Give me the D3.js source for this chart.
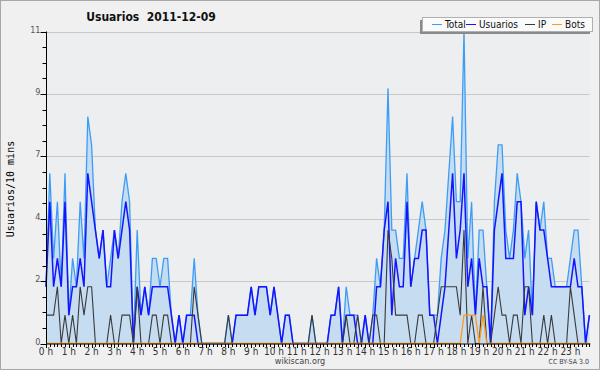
<!DOCTYPE html>
<html>
<head>
<meta charset="utf-8">
<script src="https://cdn.jsdelivr.net/npm/d3@7"></script>
<style>
  body { margin: 0; background: #f0f0f0; }
  text { font-family: "DejaVu Sans Condensed", "DejaVu Sans", sans-serif; }
</style>
</head>
<body>
<script>
// values per 10 minutes, 144 slots from 0 h to 23 h 50
var total = [
  2,6,3,5,2,6,1,3,2,5, 3,8,7,4,3,4,2,3,4,3, 5,6,5,0,4,1,2,1,3,3,
  2,3,3,1,0,1,0,1,1,3, 1,0,0,0,0,0,0,0,1,0, 1,1,1,1,2,1,2,2,2,1,
  2,1,0,1,1,0,0,0,0,0, 1,0,0,0,0,1,1,2,0,2, 1,1,1,0,1,0,1,3,2,4,
  9,4,4,3,3,6,2,3,4,5, 4,1,1,1,3,4,6,8,5,5, 11,3,5,1,4,4,2,0,5,7,
  7,4,3,4,6,5,3,4,1,5, 4,5,3,3,2,2,2,2,3,4, 4,2,0,1
];
var usuarios = [
  2,5,2,3,2,5,1,2,2,3, 2,6,5,4,3,4,2,2,4,3, 4,5,4,0,2,1,2,1,2,2,
  2,2,2,1,0,1,0,1,1,1, 0,0,0,0,0,0,0,0,0,0, 1,1,1,1,2,1,2,2,2,1,
  2,1,0,1,1,0,0,0,0,0, 0,0,0,0,0,1,1,2,0,1, 1,1,0,0,1,0,0,2,2,4,
  5,1,3,2,2,5,2,3,3,4, 4,1,1,0,1,2,4,6,3,4, 6,2,3,1,3,2,2,0,4,5,
  6,3,3,3,5,5,1,2,1,5, 4,4,3,2,2,2,2,2,2,3, 2,2,0,1
];
var ip = [
  1,1,1,2,0,1,0,1,0,2, 1,2,2,0,0,0,0,1,0,0, 1,1,1,0,2,0,0,0,1,1,
  0,1,1,0,0,0,0,0,0,2, 1,0,0,0,0,0,0,0,1,0, 0,0,0,0,0,0,0,0,0,0,
  0,0,0,0,0,0,0,0,0,0, 1,0,0,0,0,0,0,0,0,1, 0,0,1,0,0,0,1,1,0,0,
  4,3,1,1,1,1,0,0,1,1, 0,0,0,1,2,2,2,2,2,1, 4,0,1,0,0,2,0,0,1,2,
  1,1,0,1,1,0,2,2,0,0, 0,1,0,1,0,0,0,0,2,1, 0,0,0,0
];
var bots = [
  0,0,0,0,0,0,0,0,0,0, 0,0,0,0,0,0,0,0,0,0, 0,0,0,0,0,0,0,0,0,0,
  0,0,0,0,0,0,0,0,0,0, 0,0,0,0,0,0,0,0,0,0, 0,0,0,0,0,0,0,0,0,0,
  0,0,0,0,0,0,0,0,0,0, 0,0,0,0,0,0,0,0,0,0, 0,0,0,0,0,0,0,0,0,0,
  0,0,0,0,0,0,0,0,0,0, 0,0,0,0,0,0,0,0,0,0, 1,1,1,1,0,1,0,0,0,0,
  0,0,0,0,0,0,0,0,0,0, 0,0,0,0,0,0,0,0,0,0, 0,0,0,0
];
var hourLabels = ["0 h","1 h","2 h","3 h","4 h","5 h","6 h","7 h","8 h","9 h","10 h","11 h",
  "12 h","13 h","14 h","15 h","16 h","17 h","18 h","19 h","20 h","21 h","22 h","23 h"];
var yTicks = [0, 2.2, 4.4, 6.6, 8.8, 11];
var yTickLabels = ["0", "2", "4", "7", "9", "11"];
var seriesNames = ["Total", "Usuarios", "IP", "Bots"];
var seriesColors = ["#3d9df5", "#1414ff", "#3a3a3a", "#ff9a1a"];

var W = 600, H = 370;
var svg = d3.select("body").append("svg")
    .attr("width", W)
    .attr("height", H);

svg.append("rect")
    .attr("x", 0.5).attr("y", 0.5)
    .attr("width", W - 1).attr("height", H - 1)
    .attr("fill", "#f0f0f0")
    .attr("stroke", "#a8a8a8");

var x = d3.scaleLinear().domain([0, 143]).range([46, 589.4]);
var y = d3.scaleLinear().domain([0, 11]).range([343.5, 31.5]);

svg.append("rect")
    .attr("x", x(0)).attr("y", y(11))
    .attr("width", x(143) - x(0)).attr("height", y(0) - y(11))
    .attr("fill", "#edeef0");

// grid
svg.append("g").selectAll("line")
    .data(yTicks.slice(1))
    .enter().append("line")
    .attr("x1", x(0)).attr("x2", x(143))
    .attr("y1", function(d) { return Math.round(y(d)) + 0.5; })
    .attr("y2", function(d) { return Math.round(y(d)) + 0.5; })
    .attr("stroke", "#c8c8c8");

var idx = d3.range(total.length);

var area = d3.area()
    .x(function(i) { return x(i); })
    .y0(y(0))
    .y1(function(i) { return y(total[i]); });

svg.append("path")
    .attr("d", area(idx))
    .attr("fill", "#c6dcf1");

var series = [total, usuarios, ip, bots];
var widths = [1.3, 1.5, 1.1, 1.3];
series.forEach(function(s, k) {
    var line = d3.line()
        .x(function(i) { return x(i); })
        .y(function(i) { return y(s[i]); });
    svg.append("path")
        .attr("d", line(idx))
        .attr("fill", "none")
        .attr("stroke", seriesColors[k])
        .attr("stroke-width", widths[k])
        .attr("stroke-linejoin", "miter");
});

// x axis: minor ticks every 10 min, labels each hour
var xAxis = svg.append("g")
    .attr("transform", "translate(0," + (y(0) + 0.5) + ")");
xAxis.append("line")
    .attr("x1", x(0)).attr("x2", x(143) + 1)
    .attr("stroke", "#000");
xAxis.selectAll("line.minor")
    .data(idx)
    .enter().append("line")
    .attr("class", "minor")
    .attr("x1", function(i) { return Math.round(x(i)) + 0.5; })
    .attr("x2", function(i) { return Math.round(x(i)) + 0.5; })
    .attr("y1", 0)
    .attr("y2", function(i) { return i % 6 == 0 ? 4 : 3; })
    .attr("stroke", "#000");
xAxis.selectAll("text")
    .data(hourLabels)
    .enter().append("text")
    .attr("x", function(d, h) { return x(h * 6); })
    .attr("y", 11)
    .attr("text-anchor", "middle")
    .attr("font-size", 10)
    .attr("fill", "#333")
    .text(function(d) { return d; });

// y axis
var yAxis = svg.append("g")
    .attr("transform", "translate(" + (x(0) + 0.5) + ",0)");
yAxis.append("line")
    .attr("y1", y(11)).attr("y2", y(0))
    .attr("stroke", "#000");
yAxis.selectAll("line.minor")
    .data(d3.range(0, 21))
    .enter().append("line")
    .attr("class", "minor")
    .attr("x1", function(j) { return j % 4 == 0 ? -6 : -4; })
    .attr("x2", 0)
    .attr("y1", function(j) { return Math.round(y(j * 0.55)) + 0.5; })
    .attr("y2", function(j) { return Math.round(y(j * 0.55)) + 0.5; })
    .attr("stroke", "#000");
yAxis.selectAll("text")
    .data(yTicks)
    .enter().append("text")
    .attr("x", -6)
    .attr("y", function(d) { return y(d) + 1; })
    .attr("text-anchor", "end")
    .attr("font-size", 9)
    .attr("fill", "#555")
    .text(function(d, k) { return yTickLabels[k]; });

svg.append("text")
    .attr("transform", "translate(14,189) rotate(-90)")
    .attr("text-anchor", "middle")
    .style("font-family", "'DejaVu Sans Mono', monospace")
    .attr("font-size", 10)
    .attr("fill", "#000")
    .text("Usuarios/10 mins");

svg.append("text")
    .attr("x", 151).attr("y", 21)
    .attr("text-anchor", "middle")
    .attr("font-size", 12)
    .attr("font-weight", "bold")
    .attr("fill", "#111")
    .text("Usuarios\u00a0\u00a02011-12-09");

svg.append("text")
    .attr("x", 300).attr("y", 364)
    .attr("text-anchor", "middle")
    .attr("font-size", 9)
    .attr("fill", "#444")
    .text("wikiscan.org");

svg.append("text")
    .attr("x", 589).attr("y", 364)
    .attr("text-anchor", "end")
    .attr("font-size", 7)
    .attr("fill", "#444")
    .text("CC BY-SA 3.0");

// legend
var lg = svg.append("g");
lg.append("rect")
    .attr("x", 420).attr("y", 20)
    .attr("width", 170).attr("height", 14)
    .attr("fill", "#8a8a8a");
lg.append("rect")
    .attr("x", 422.5).attr("y", 17.5)
    .attr("width", 170).attr("height", 14)
    .attr("fill", "#fafafa")
    .attr("stroke", "#b0b0b0");
var legX = [432, 466, 525, 552];
seriesNames.forEach(function(name, k) {
    lg.append("line")
        .attr("x1", legX[k]).attr("x2", legX[k] + 10)
        .attr("y1", 24.5).attr("y2", 24.5)
        .attr("stroke", seriesColors[k]);
    lg.append("text")
        .attr("x", legX[k] + 13).attr("y", 28)
        .attr("font-size", 10)
        .attr("fill", "#111")
        .text(name);
});
</script>
</body>
</html>
